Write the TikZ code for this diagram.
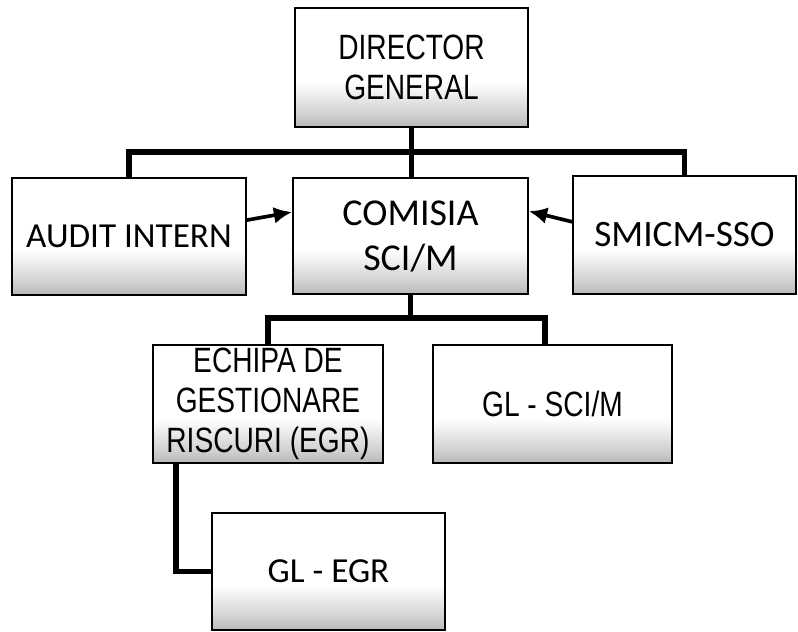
\documentclass[tikz,border=0pt]{standalone}
\usepackage{fontspec}
\setmainfont{Carlito}
\newfontfamily\narrowsans[FakeStretch=0.8]{Liberation Sans}
\usepackage{tikz}
\usetikzlibrary{positioning,arrows.meta,calc}

%% light grainy grey at the foot of every box
\pgfdeclareverticalshading{boxfoot}{100bp}{color(0bp)=(gray!55); color(25bp)=(gray!55); color(31bp)=(gray!35); color(44bp)=(white); color(100bp)=(white)}

\begin{document}
\begin{tikzpicture}[x=0.025cm, y=-0.025cm,
    BX/.style={rectangle, draw=black, line width=1.2pt, shading=boxfoot,
      align=center, inner sep=2pt},
    BC/.style={BX, font=\fontsize{25}{27}\selectfont},
    BN/.style={BX, font=\fontsize{25}{28.5}\selectfont\narrowsans},
    link/.style={line width=3.8pt, draw=black},
    arr/.style={-{Latex[length=13pt,width=12pt]}, line width=2.6pt, draw=black}
  ]
    \useasboundingbox (0,0) rectangle (798,632);

    %% Director General (sus)
    \node[BN, minimum width=5.825cm, minimum height=2.975cm] (dg) at (411.5,67.5)
      {DIRECTOR\\GENERAL};

    %% randul doi
    \node[BC, minimum width=5.85cm, minimum height=2.925cm] (audit) at (129,236.5)
      {AUDIT INTERN};
    \node[BC, font=\fontsize{27}{32}\selectfont, minimum width=5.875cm,
      minimum height=2.9cm] (comisia) at (410.5,236)
      {COMISIA\\SCI/M};
    \node[BC, font=\fontsize{26.5}{27}\selectfont, minimum width=5.575cm,
      minimum height=2.95cm] (smicm) at (684.5,235)
      {SMICM-SSO};

    %% randul trei
    \node[BN, minimum width=5.75cm, minimum height=2.95cm] (egr) at (268,404)
      {ECHIPA DE\\GESTIONARE\\RISCURI (EGR)};
    \node[BN, minimum width=5.975cm, minimum height=2.95cm] (glsci) at (552.5,404)
      {GL - SCI/M};

    %% GL EGR (jos)
    \node[BC, minimum width=5.825cm, minimum height=2.925cm] (glegr) at (328.5,571.5)
      {GL - EGR};

    %% Legaturi
    \coordinate (topbus) at (410,152);
    \coordinate (lowbus) at (410,318);
    \draw[link] (dg.south) -- (dg.south |- comisia.north);
    \draw[link] (audit.north) |- (topbus) -| (smicm.north);
    \draw[link] (comisia.south) -- (comisia.south |- lowbus);
    \draw[link] (egr.north) |- (lowbus) -| ([xshift=-0.19cm]glsci.north);
    \draw[link] ([xshift=0.6cm]egr.south west) |- (glegr.west);

    %% Sageti spre comisie
    \draw[arr] ([yshift=0.41cm]audit.east) -- ([yshift=0.6cm]comisia.west);
    \draw[arr] ([yshift=0.33cm]smicm.west) -- ([yshift=0.62cm]comisia.east);
\end{tikzpicture}
\end{document}
